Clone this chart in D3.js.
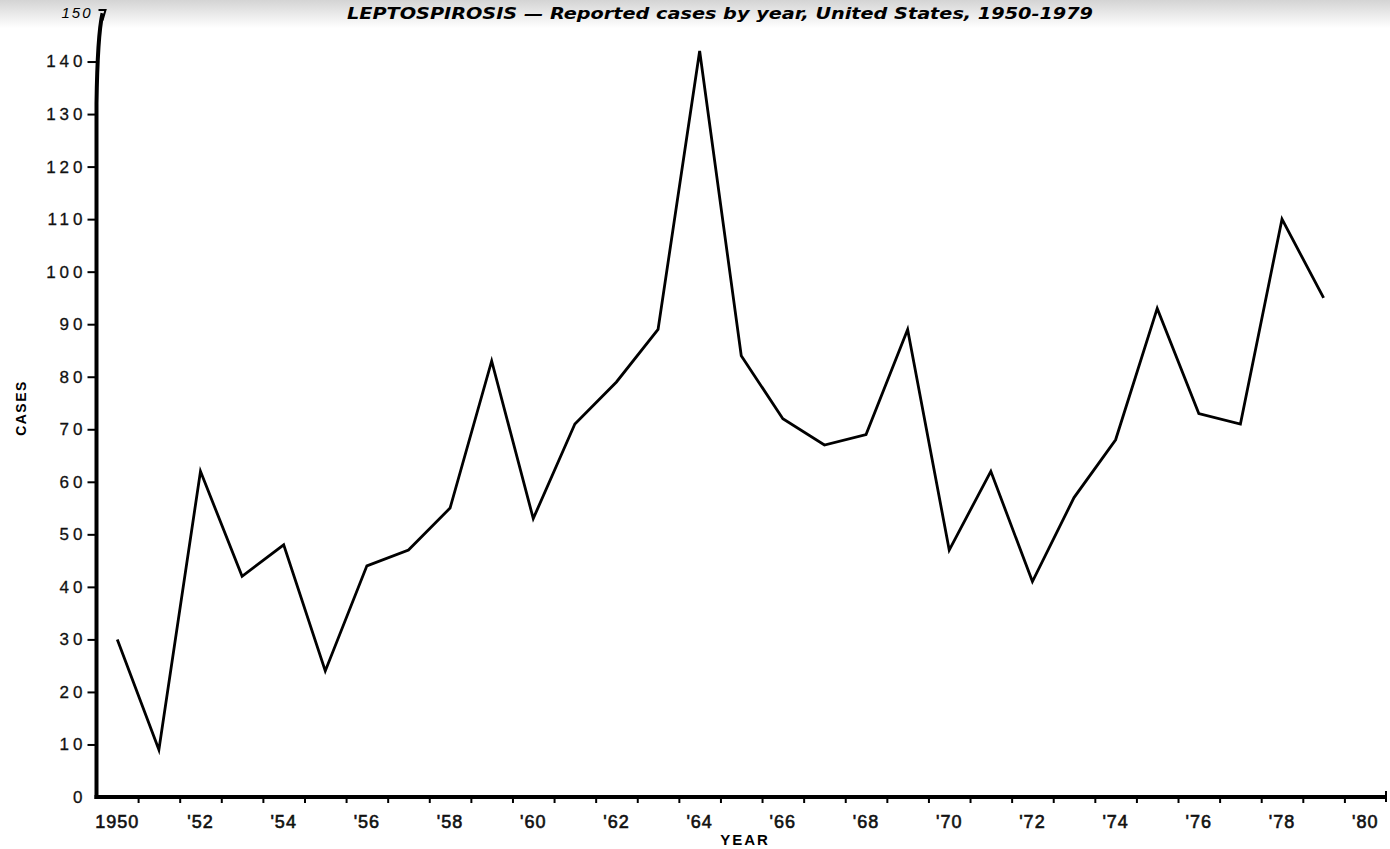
<!DOCTYPE html>
<html>
<head>
<meta charset="utf-8">
<script src="https://cdn.jsdelivr.net/npm/d3@7"></script>
<style>
  body { margin: 0; background: #fff; }
  svg { display: block; font-family: "Liberation Sans", Arial, sans-serif; }
</style>
</head>
<body>
<div id="chart"></div>
<script>
// data
var years = [1950, 1951, 1952, 1953, 1954, 1955, 1956, 1957, 1958, 1959,
             1960, 1961, 1962, 1963, 1964, 1965, 1966, 1967, 1968, 1969,
             1970, 1971, 1972, 1973, 1974, 1975, 1976, 1977, 1978, 1979];
var cases = [30, 9, 62, 42, 48, 24, 44, 47, 55, 83,
             53, 71, 79, 89, 142, 84, 72, 67, 69, 89,
             47, 62, 41, 57, 68, 93, 73, 71, 110, 95];
var yTicks = [0, 10, 20, 30, 40, 50, 60, 70, 80, 90, 100, 110, 120, 130, 140];
var xLabelYears = [1950, 1952, 1954, 1956, 1958, 1960, 1962, 1964, 1966, 1968,
                   1970, 1972, 1974, 1976, 1978, 1980];
var title = "LEPTOSPIROSIS \u2014 Reported cases by year, United States, 1950-1979";

var data = years.map(function(d, i) { return {year: d, cases: cases[i]}; });

var W = 1390, H = 849;
var margin = {top: 9, left: 96.5},
    width = 1386 - margin.left,
    height = 797 - margin.top;

var svg = d3.select("#chart").append("svg")
    .attr("width", W)
    .attr("height", H);

// faint grey band at the top of the scan
var grad = svg.append("defs").append("linearGradient")
    .attr("id", "topband").attr("x1", 0).attr("y1", 0).attr("x2", 0).attr("y2", 1);
grad.append("stop").attr("offset", "0%").attr("stop-color", "#d4d4d4");
grad.append("stop").attr("offset", "100%").attr("stop-color", "#ffffff");
svg.append("rect").attr("width", W).attr("height", 28).attr("fill", "url(#topband)");

var g = svg.append("g")
    .attr("transform", "translate(" + margin.left + "," + margin.top + ")");

var x = d3.scaleLinear().domain([1950, 1981]).range([0, width]);
var y = d3.scaleLinear().domain([0, 150]).range([height, 0]);

// title
svg.append("text")
    .attr("x", 347).attr("y", 19)
    .attr("textLength", 746)
    .attr("lengthAdjust", "spacingAndGlyphs")
    .style("font-family", "'DejaVu Sans', sans-serif")
    .style("font-size", "16px")
    .style("font-weight", "bold")
    .style("font-style", "italic")
    .text(title);

// Y axis
var yAxis = g.append("g")
    .call(d3.axisLeft(y).tickValues(yTicks).tickSize(9).tickPadding(1));
yAxis.select(".domain").remove();
yAxis.selectAll(".tick line").attr("stroke-width", 2)
    .filter(function(d) { return d === 0; }).remove();
yAxis.selectAll(".tick text")
    .style("font-size", "17px")
    .style("letter-spacing", "4px")
    .attr("fill", "#111")
    .attr("stroke", "#111")
    .attr("stroke-width", 0.3);

// hand drawn vertical axis, bends a little at the top
var x0 = x(1950);
g.append("path")
    .attr("d", "M" + x0 + "," + (y(0) + 2) +
               " L" + x0 + "," + y(132) +
               " Q" + (x0 + 1) + "," + y(145) + " " + (x0 + 6) + "," + y(149.2))
    .attr("fill", "none").attr("stroke", "#000").attr("stroke-width", 4);
g.append("path")
    .attr("d", "M" + (x0 + 2) + "," + y(149.8) + " L" + (x0 + 9) + "," + y(149.8) +
               " L" + (x0 + 6) + "," + y(147.8))
    .attr("fill", "none").attr("stroke", "#000").attr("stroke-width", 2);
svg.append("text")
    .attr("x", margin.left - 4).attr("y", 18)
    .attr("text-anchor", "end")
    .style("font-size", "15px")
    .style("font-style", "italic")
    .style("letter-spacing", "2px")
    .text("150");

// X axis: ticks at year boundaries, labels at mid year
var xAxis = g.append("g")
    .attr("transform", "translate(0," + height + ")")
    .call(d3.axisBottom(x).tickValues(d3.range(1951, 1981)).tickSize(6).tickFormat(""));
xAxis.select(".domain").remove();
xAxis.selectAll(".tick line").attr("stroke-width", 2).attr("y1", 2);

g.append("line")
    .attr("x1", x0 - 2).attr("x2", x(1981) + 1)
    .attr("y1", y(0)).attr("y2", y(0))
    .attr("stroke", "#000").attr("stroke-width", 4);
g.append("line")
    .attr("x1", x(1981)).attr("x2", x(1981))
    .attr("y1", y(0) - 6).attr("y2", y(0) + 5)
    .attr("stroke", "#000").attr("stroke-width", 2);

g.append("g").selectAll("text")
    .data(xLabelYears)
    .enter().append("text")
    .attr("x", function(d) { return x(d + 0.5); })
    .attr("y", height + 31)
    .attr("text-anchor", "middle")
    .style("font-size", "18px")
    .style("letter-spacing", "1px")
    .attr("fill", "#111")
    .attr("stroke", "#111")
    .attr("stroke-width", 0.6)
    .text(function(d) { return d === 1950 ? "1950" : "'" + String(d).slice(2); });

// axis titles
svg.append("text")
    .attr("x", 745).attr("y", 845)
    .attr("text-anchor", "middle")
    .style("font-size", "15px")
    .style("font-weight", "bold")
    .style("letter-spacing", "2px")
    .text("YEAR");

svg.append("text")
    .attr("transform", "translate(26,408) rotate(-90)")
    .attr("text-anchor", "middle")
    .style("font-size", "14px")
    .style("font-weight", "bold")
    .style("letter-spacing", "1.5px")
    .text("CASES");

// the line
var line = d3.line()
    .x(function(d) { return x(d.year + 0.5); })
    .y(function(d) { return y(d.cases); });

g.append("path")
    .datum(data)
    .attr("d", line)
    .attr("fill", "none")
    .attr("stroke", "#000")
    .attr("stroke-width", 2.8)
    .attr("stroke-linejoin", "miter");
</script>
</body>
</html>
